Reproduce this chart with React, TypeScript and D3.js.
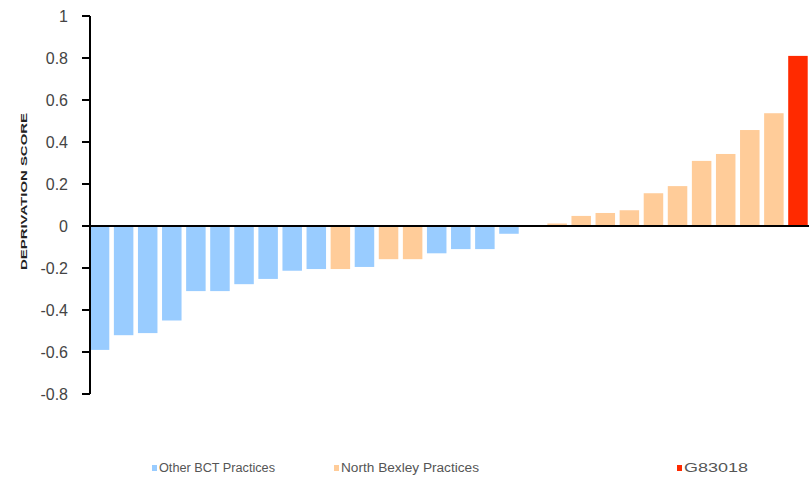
import React from "react";
import * as d3 from "d3";

const practices: string[] = Array.from({ length: 30 }, (_, i) => `P${i + 1}`);
const scores: number[] = [
  -0.59, -0.52, -0.51, -0.45, -0.31, -0.31, -0.277, -0.252, -0.213, -0.205,
  -0.205, -0.195, -0.158, -0.158, -0.13, -0.11, -0.11, -0.037, 0.0, 0.012,
  0.048, 0.062, 0.075, 0.156, 0.19, 0.31, 0.343, 0.457, 0.537, 0.81,
];
const groups: string[] = [
  "o", "o", "o", "o", "o", "o", "o", "o", "o", "o",
  "n", "o", "n", "n", "o", "o", "o", "o", "n", "n",
  "n", "n", "n", "n", "n", "n", "n", "n", "n", "g",
];
const yTicks: number[] = [1, 0.8, 0.6, 0.4, 0.2, 0, -0.2, -0.4, -0.6, -0.8];
const legendLabels: string[] = ["Other BCT Practices", "North Bexley Practices", "G83018"];
const legendKeys: string[] = ["o", "n", "g"];

const colors: Record<string, string> = { o: "#99CCFF", n: "#FFCC99", g: "#FF2A00" };

export default function App() {
  const W = 809, H = 484;
  const x = d3.scaleBand<string>().domain(practices).range([87.5, 810]).paddingInner(0.19).paddingOuter(0.095);
  const y = d3.scaleLinear().domain([-0.8, 1]).range([394, 16]);
  const axisX = 90;
  const legendX = [152, 334, 677];
  const legendW = [116, 138, 64];
  const fmt = (v: number) => (v === 0 ? "0" : String(v));
  return (
    <svg width={W} height={H} style={{ position: "absolute", left: 0, top: 0, background: "#fff" }}
      fontFamily="Arial, 'Liberation Sans', sans-serif">
      <rect x={0} y={0} width={W} height={H} fill="#fff" />
      {scores.map((v, i) => (
        <rect key={i} x={x(practices[i])} width={x.bandwidth()}
          y={Math.min(y(v), y(0))} height={Math.abs(y(v) - y(0))}
          fill={colors[groups[i]]} />
      ))}
      <line x1={axisX} x2={W} y1={y(0)} y2={y(0)} stroke="#000" strokeWidth={2} />
      <line x1={axisX} x2={axisX} y1={y(1)} y2={y(-0.8)} stroke="#000" strokeWidth={2} />
      {yTicks.map((t) => (
        <g key={t}>
          <line x1={82} x2={axisX} y1={y(t)} y2={y(t)} stroke="#000" strokeWidth={2} />
          <text x={68} y={y(t) + 6} textAnchor="end" fontSize={16} fill="#444">{fmt(t)}</text>
        </g>
      ))}
      <text transform={`translate(27,191.5) rotate(-90)`} textAnchor="middle" fontSize={9}
        fontWeight="bold" fill="#222" textLength={157} lengthAdjust="spacingAndGlyphs">DEPRIVATION SCORE</text>
      {legendLabels.map((l, i) => (
        <g key={l}>
          <rect x={legendX[i]} y={465} width={5} height={6} fill={colors[legendKeys[i]]} />
          <text x={legendX[i] + 7} y={472} fontSize={12} fill="#555" textLength={legendW[i]}
            lengthAdjust="spacingAndGlyphs">{l}</text>
        </g>
      ))}
    </svg>
  );
}
